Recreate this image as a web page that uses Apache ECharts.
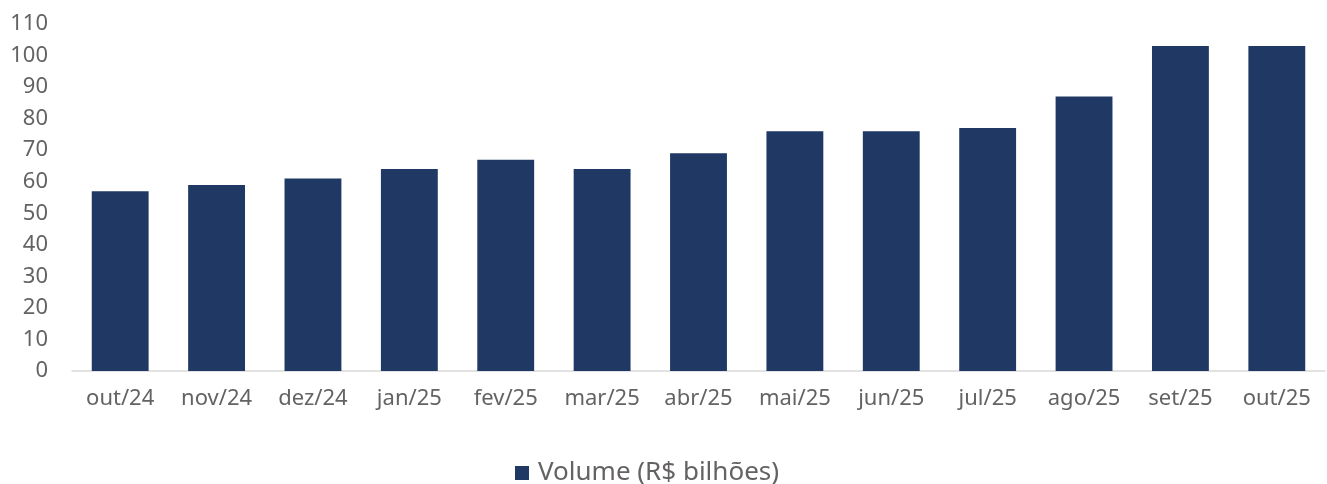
<!DOCTYPE html>
<html>
<head>
<meta charset="utf-8">
<script src="https://cdn.jsdelivr.net/npm/echarts@6/dist/echarts.min.js"></script>
<style>
  html, body { margin: 0; padding: 0; background: #fff; }
  #chart { width: 1327px; height: 484px; }
</style>
</head>
<body>
<div id="chart"></div>
<script>
// dados
const categories = ["out/24", "nov/24", "dez/24", "jan/25", "fev/25", "mar/25", "abr/25",
  "mai/25", "jun/25", "jul/25", "ago/25", "set/25", "out/25"];
const volume = [57, 59, 61, 64, 67, 64, 69, 76, 76, 77, 87, 103, 103];
const seriesName = "Volume (R$ bilhões)";

const myChart = echarts.init(document.getElementById("chart"));
const textColor = "#656263";
const font = "Noto Sans";

const option = {
  animation: false,
  grid: { left: 72, right: 2, top: 24, bottom: 113, containLabel: false },
  legend: {
    top: 455,
    left: 510,
    icon: "rect",
    itemWidth: 14,
    itemHeight: 14,
    itemGap: 9,
    textStyle: { color: textColor, fontSize: 26, fontFamily: font, padding: [0, 0, 0, 4] },
    data: [seriesName],
  },
  xAxis: {
    type: "category",
    data: categories,
    axisTick: { show: false },
    axisLine: { lineStyle: { color: "#d9d9d9", width: 1.5 } },
    axisLabel: {
      interval: 0,
      margin: 17,
      color: textColor,
      fontSize: 22,
      fontFamily: font,
    },
  },
  yAxis: {
    type: "value",
    min: 0,
    max: 110,
    interval: 10,
    axisLine: { show: false },
    axisTick: { show: false },
    splitLine: { show: false },
    axisLabel: {
      margin: 24,
      color: textColor,
      fontSize: 22,
      fontFamily: font,
    },
  },
  series: [
    {
      name: seriesName,
      type: "bar",
      data: volume,
      barWidth: "59%",
      itemStyle: { color: "#203864" },
    },
  ],
};
myChart.setOption(option);
</script>
</body>
</html>
